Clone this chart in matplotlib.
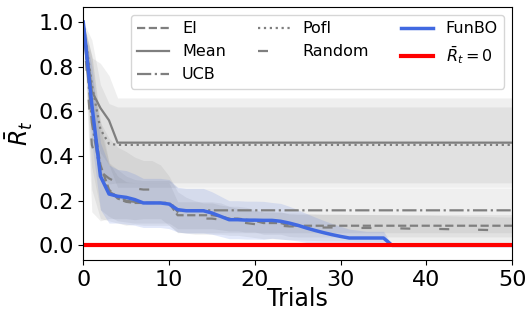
import numpy as np
import matplotlib
matplotlib.use("Agg")
import matplotlib.pyplot as plt

trials = np.arange(51)

ei = [1.0, 0.6, 0.36, 0.25, 0.21, 0.195, 0.19, 0.19, 0.19, 0.19, 0.19,
      0.135, 0.135, 0.135, 0.135, 0.135, 0.13, 0.12, 0.12, 0.115, 0.11,
      0.1, 0.1, 0.1, 0.09, 0.088] + [0.088] * 25
ei_std = [0.0, 0.25, 0.2, 0.12, 0.1, 0.09, 0.09, 0.09, 0.09, 0.09, 0.09,
          0.06, 0.06, 0.06, 0.06, 0.06, 0.06, 0.055, 0.055, 0.055, 0.05] + [0.05] * 30

mean = [1.0, 0.69, 0.615, 0.56, 0.46] + [0.46] * 46
mean_std = [0.0, 0.15, 0.2, 0.2, 0.2] + [0.2] * 46

ucb = [1.0, 0.55, 0.32, 0.24, 0.22, 0.2, 0.195, 0.19, 0.19, 0.19, 0.19, 0.157] + [0.157] * 39
ucb_std = [0.0, 0.3, 0.2, 0.13, 0.12, 0.11, 0.1, 0.1, 0.1, 0.1, 0.1, 0.1] + [0.1] * 39

pofi = [1.0, 0.72, 0.52, 0.455, 0.45] + [0.45] * 46
pofi_std = [0.0, 0.2, 0.2, 0.18, 0.17] + [0.17] * 46

rand = [1.0, 0.45, 0.33, 0.3, 0.28, 0.27, 0.255, 0.25, 0.25, 0.24, 0.2,
        0.15, 0.135, 0.125, 0.12, 0.12, 0.115, 0.11, 0.105, 0.1, 0.095,
        0.09, 0.09, 0.088, 0.085, 0.085, 0.083, 0.082, 0.08, 0.08, 0.08,
        0.079, 0.078, 0.078, 0.078, 0.077, 0.077, 0.076, 0.075, 0.075, 0.075,
        0.074, 0.073, 0.072, 0.071, 0.07, 0.07, 0.069, 0.068, 0.067, 0.067]
rand_std = [0.0, 0.3, 0.22, 0.18, 0.16, 0.15, 0.14, 0.13, 0.13, 0.12, 0.11,
            0.09, 0.08, 0.075, 0.07, 0.07, 0.065, 0.065, 0.06, 0.06, 0.06] + [0.06] * 30

funbo = [1.0, 0.63, 0.31, 0.23, 0.22, 0.215, 0.205, 0.19, 0.19, 0.19, 0.185,
         0.16, 0.155, 0.155, 0.155, 0.145, 0.13, 0.115, 0.115, 0.113, 0.113,
         0.112, 0.112, 0.108, 0.10, 0.09, 0.078, 0.067, 0.057, 0.048, 0.04,
         0.033, 0.033, 0.033, 0.033, 0.033, 0.0] + [0.0] * 14
funbo_std = [0.0, 0.17, 0.15, 0.13, 0.12, 0.12, 0.115, 0.11, 0.11, 0.11, 0.11,
             0.1, 0.1, 0.1, 0.1, 0.095, 0.09, 0.085, 0.085, 0.085, 0.085,
             0.085, 0.08, 0.08, 0.075, 0.07, 0.065, 0.06, 0.055, 0.05, 0.045,
             0.04, 0.035, 0.03, 0.03, 0.03, 0.0] + [0.0] * 14

fig = plt.figure(figsize=(5.27, 3.12), dpi=100)
ax = fig.add_axes([0.158, 0.167, 0.814, 0.811])

gray = "#7f7f7f"
series = [
    ("EI", ei, ei_std, "--", gray),
    ("Mean", mean, mean_std, "-", gray),
    ("UCB", ucb, ucb_std, "-.", gray),
    ("PofI", pofi, pofi_std, ":", gray),
    ("Random", rand, rand_std, (0, (4.5, 13)), gray),
]
for name, m, s, ls, c in series:
    m = np.array(m); s = np.array(s)
    ax.fill_between(trials, np.clip(m - s, 0, None), m + s, color=c, alpha=0.12, linewidth=0)
    ax.plot(trials, m, ls=ls, color=c, lw=1.6, label=name)

fm = np.array(funbo); fs = np.array(funbo_std)
ax.fill_between(trials, np.clip(fm - fs, 0, None), fm + fs, color="royalblue", alpha=0.15, linewidth=0)
ax.plot(trials, fm, color="royalblue", lw=2.5, label="FunBO")
ax.axhline(0.0, color="red", lw=3, label=r"$\bar{R}_t = 0$")

ax.set_xlim(0, 50)
ax.set_ylim(-0.065, 1.068)
ax.set_xticks([0, 10, 20, 30, 40, 50])
ax.set_yticks([0.0, 0.2, 0.4, 0.6, 0.8, 1.0])
ax.tick_params(labelsize=16)
ax.set_xlabel("Trials", fontsize=17, labelpad=-2)
ax.set_ylabel(r"$\bar{R}_t$", fontsize=17, labelpad=2)
ax.legend(ncol=3, fontsize=11.5, loc="upper right", borderaxespad=0.5)

fig.savefig("out.png", dpi=100)
